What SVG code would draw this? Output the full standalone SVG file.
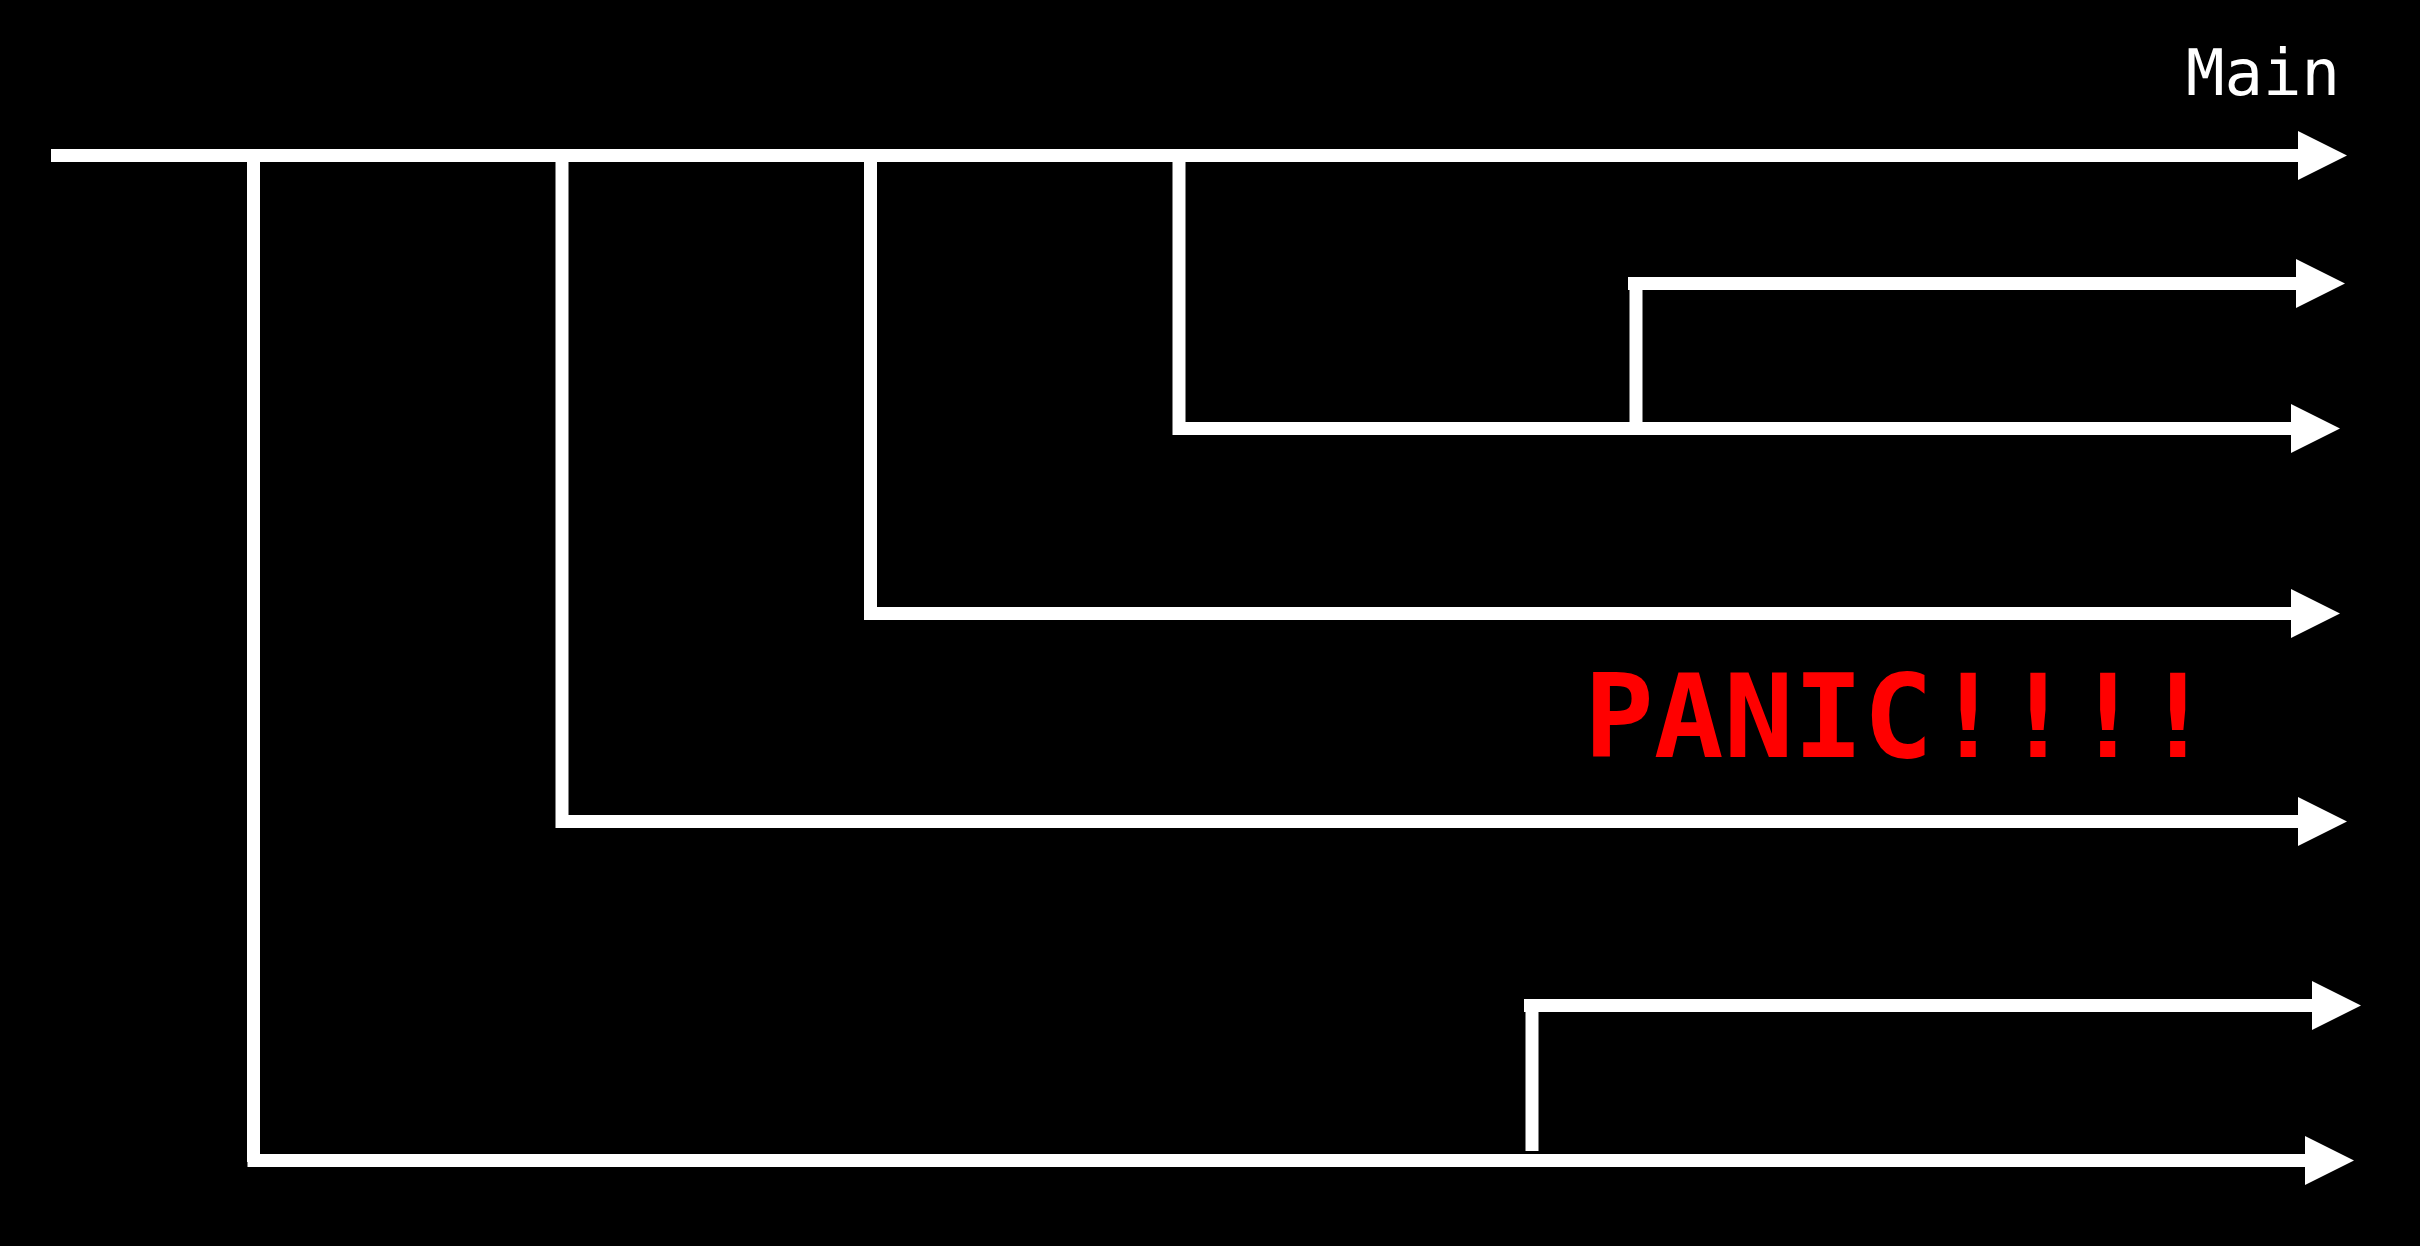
<svg xmlns="http://www.w3.org/2000/svg" width="2420" height="1246" viewBox="0 0 2420 1246">
<defs>
<style>
.ln{fill:none;stroke:#fff;stroke-width:13;stroke-linejoin:miter;stroke-linecap:butt}
.arr{marker-end:url(#ah)}
.lbl{font-family:"DejaVu Sans Mono","Liberation Mono",monospace}
</style>
<marker id="ah" markerUnits="userSpaceOnUse" markerWidth="50" markerHeight="50" refX="0" refY="24.5" orient="auto" viewBox="0 0 50 49" overflow="visible">
<path d="M0,0 L49,24.5 L0,49 Z" fill="#fff"/>
</marker>
</defs>
<rect x="0" y="0" width="2420" height="1246" fill="#000"/>
<g id="connectors">
<rect id="main-line" x="51" y="149" width="2248" height="13" fill="#fff"/>
<path id="main-head" d="M2298,131 L2347,155.5 L2298,180 Z" fill="#fff"/>
<path id="a-vert" class="ln" d="M253.5,155 V1162"/>
<path id="a-horiz" class="ln arr" d="M247.5,1160.5 H2305"/>
<path id="b-line" class="ln arr" d="M562,155 V821.5 H2298"/>
<path id="c-line" class="ln arr" d="M870.5,155 V613.5 H2291"/>
<path id="d-line" class="ln arr" d="M1179,155 V428.5 H2291"/>
<path id="e-vert" class="ln" d="M1636,284 V423"/>
<path id="e-horiz" class="ln arr" d="M1628,283.5 H2296"/>
<path id="f-vert" class="ln" d="M1532,1006 V1151"/>
<path id="f-horiz" class="ln arr" d="M1524,1005.5 H2312"/>
</g>
<g id="label-main">
<text class="lbl" x="2186" y="94.5" font-size="64" fill="#fff">Main</text>
</g>
<g id="label-panic">
<text class="lbl" x="1584" y="757" font-size="116" font-weight="bold" fill="#ff0000">PANIC!!!!</text>
</g>
</svg>
